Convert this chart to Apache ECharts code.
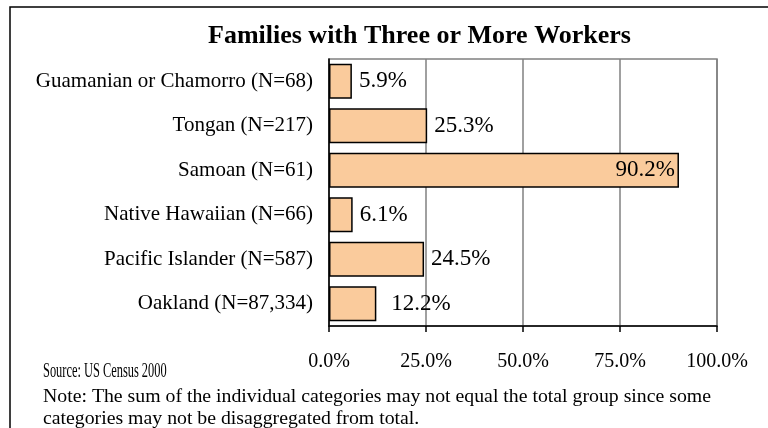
<!DOCTYPE html>
<html>
<head>
<meta charset="utf-8">
<script src="https://cdn.jsdelivr.net/npm/echarts@6/dist/echarts.min.js"></script>
<style>
  html, body { margin: 0; padding: 0; background: #fff; }
  #chart { width: 768px; height: 428px; }
</style>
</head>
<body>
<div id="chart"></div>
<script>
var categories = [
  'Guamanian or Chamorro (N=68)',
  'Tongan (N=217)',
  'Samoan (N=61)',
  'Native Hawaiian (N=66)',
  'Pacific Islander (N=587)',
  'Oakland (N=87,334)'
];
var values = [5.9, 25.3, 90.2, 6.1, 24.5, 12.2];

var serif = '"Liberation Serif", "DejaVu Serif", serif';
var chart = echarts.init(document.getElementById('chart'));

var barData = values.map(function (v, i) {
  var item = { value: v };
  if (v > 80) {
    item.label = { position: 'insideRight', distance: 4 };
  } else if (i === values.length - 1) {
    item.label = { distance: 15 };
  }
  return item;
});

chart.setOption({
  animation: false,
  title: {
    text: 'Families with Three or More Workers',
    left: 203,
    top: 18,
    textStyle: { fontFamily: serif, fontWeight: 'bold', fontSize: 26, color: '#000' }
  },
  grid: {
    left: 329, right: 51, top: 59, bottom: 102,
    show: true, borderColor: '#808080', borderWidth: 1.5, backgroundColor: '#fff'
  },
  xAxis: {
    type: 'value',
    min: 0, max: 100, interval: 25,
    axisLine: { show: true, lineStyle: { color: '#000', width: 1.5 } },
    axisTick: { show: true, length: 6, lineStyle: { color: '#000', width: 1.5 } },
    axisLabel: {
      margin: 26, fontFamily: serif, fontSize: 20, color: '#000',
      formatter: function (v) { return v.toFixed(1) + '%'; }
    },
    splitLine: { show: true, lineStyle: { color: '#808080', width: 1.5 } }
  },
  yAxis: {
    type: 'category',
    data: categories,
    inverse: true,
    axisLine: { show: true, lineStyle: { color: '#000', width: 1.5 } },
    axisTick: { show: false },
    axisLabel: { margin: 16, fontFamily: serif, fontSize: 21, color: '#000' }
  },
  series: [{
    type: 'bar',
    data: barData,
    barCategoryGap: '21%',
    itemStyle: { color: '#FACB9C', borderColor: '#000', borderWidth: 1.5 },
    label: {
      show: true, position: 'right', distance: 7,
      fontFamily: serif, fontSize: 23, color: '#000',
      formatter: function (p) { return p.value.toFixed(1) + '%'; }
    }
  }],
  graphic: [
    {
      type: 'rect', silent: true,
      shape: { x: 10, y: 7, width: 800, height: 500 },
      style: { fill: null, stroke: '#000', lineWidth: 1.5 }
    },
    {
      type: 'text', x: 43, y: 362, scaleX: 0.62, scaleY: 1,
      style: {
        text: 'Source: US Census 2000',
        fontFamily: serif, fontSize: 20, fill: '#000'
      }
    },
    {
      type: 'text', left: 43, top: 386,
      style: {
        text: 'Note: The sum of the individual categories may not equal the total group since some\ncategories may not be disaggregated from total.',
        font: '19.8px ' + serif, fill: '#000', lineHeight: 22
      }
    }
  ]
});
</script>
</body>
</html>
